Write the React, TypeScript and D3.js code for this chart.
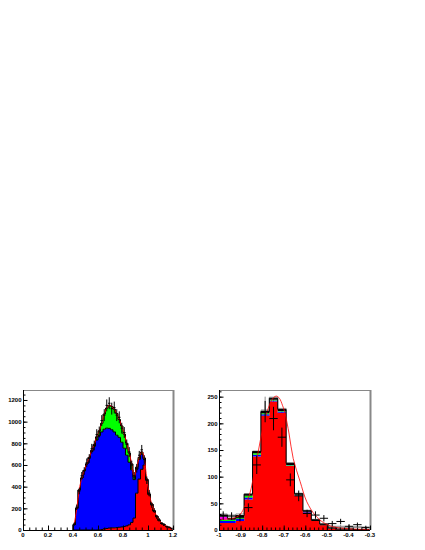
import React from "react";
import * as d3 from "d3";

// ---------------- LEFT PANEL DATA (40 bins of 0.02 from 0.40 to 1.20) ----------------
const leftBinCount = 40;
const leftBinStart = 0.4;
const leftBinWidth = 0.02;
const leftRed = [0, 0, 0, 0, 0, 0, 0, 0, 0, 0, 2, 5, 10, 14, 18, 20, 20, 22, 25, 28, 32, 38, 48, 70, 110, 340, 470, 560, 600, 460, 324, 236, 172, 125, 86, 61, 45, 32, 22, 14];
const leftBlue = [50, 200, 370, 480, 550, 610, 668, 725, 772, 830, 868, 900, 920, 926, 920, 905, 885, 853, 830, 782, 723, 652, 577, 485, 355, 220, 180, 140, 55, 8, 5, 3, 2, 2, 1, 1, 1, 1, 1, 1];
const leftGreen = [0, 0, 0, 0, 0, 0, 2, 10, 18, 30, 45, 80, 140, 185, 212, 215, 210, 200, 165, 150, 130, 110, 85, 55, 25, 20, 20, 20, 10, 2, 1, 1, 1, 1, 1, 0, 0, 0, 0, 0];
const leftData = [55, 210, 360, 500, 545, 620, 660, 750, 780, 880, 905, 1010, 1060, 1150, 1170, 1120, 1130, 1060, 1040, 940, 900, 790, 720, 600, 500, 570, 690, 740, 650, 460, 340, 230, 180, 120, 95, 60, 50, 30, 25, 12];
const leftErr = [15, 25, 30, 35, 35, 40, 40, 45, 45, 50, 50, 50, 55, 55, 55, 55, 55, 55, 55, 50, 50, 45, 45, 40, 35, 40, 40, 45, 40, 35, 30, 25, 22, 18, 15, 12, 11, 9, 8, 6];
const leftXTicks = [0, 0.2, 0.4, 0.6, 0.8, 1, 1.2];
const leftXLabels = ["0", "0.2", "0.4", "0.6", "0.8", "1", "1.2"];
const leftYTicks = [0, 200, 400, 600, 800, 1000, 1200];
const leftYLabels = ["0", "200", "400", "600", "800", "1000", "1200"];

// ---------------- RIGHT PANEL DATA (18 bins from -1 to -0.3) ----------------
const rightBinCount = 18;
const rightRed = [13, 13, 17, 57, 138, 214, 241, 220, 120, 64, 33, 17, 9, 3, 1, 1, 0.5, 0.5];
const rightBlue = [4, 4, 4, 4, 3, 3, 2, 2, 1, 1, 1, 0, 0, 0, 0, 0, 0, 0];
const rightGreen = [2, 2, 3, 3, 3, 2, 1, 1, 1, 1, 0, 0, 0, 0, 0, 0, 0, 0];
const rightMagenta = [6, 0, 0, 0, 0, 0, 0, 0, 0, 0, 0, 0, 0, 0, 0, 0, 0, 0];
const rightBlack = [3, 3, 3, 3, 3, 3, 3, 3, 3, 2, 2, 2, 2, 1, 1, 1, 0.5, 0.5];
const rightGrayHist = [30, 27, 30, 68, 148, 224, 249, 228, 126, 69, 37, 20, 12, 6, 5, 5, 6, 5];
const rightGray = [27, 28, 26, 60, 135, 225, 235, 215, 115, 62, 32, 17, 9, 7, 7, 6, 5, 4];
const rightGrayErr = [5, 5, 5, 5, 8, 25, 10, 8, 6, 5, 4, 3, 3, 3, 3, 3, 3, 2];
const rightData = [27, 26, 23, 42, 122, 222, 209, 174, 94, 64, 31, 28, 22, 12, 16, 7, 10, 5];
const rightErr = [8, 7, 7, 8, 17, 20, 22, 18, 12, 10, 7, 7, 6, 5, 5, 4, 4, 3];
const rightFitX = [-1, -0.95, -0.92, -0.9, -0.88, -0.856, -0.84, -0.818, -0.8, -0.779, -0.76, -0.745, -0.733, -0.72, -0.705, -0.694, -0.675, -0.656, -0.624, -0.593, -0.555, -0.516, -0.47, -0.42, -0.36, -0.3];
const rightFitY = [20, 21, 24, 30, 45, 70, 100, 147, 185, 219, 240, 249, 251, 247, 233, 219, 180, 134, 91, 53, 28, 14, 6, 3, 1.5, 1];
const rightXTicks = [-1, -0.9, -0.8, -0.7, -0.6, -0.5, -0.4, -0.3];
const rightXLabels = ["-1", "-0.9", "-0.8", "-0.7", "-0.6", "-0.5", "-0.4", "-0.3"];
const rightYTicks = [0, 50, 100, 150, 200, 250];
const rightYLabels = ["0", "50", "100", "150", "200", "250"];

type P = { x: number; lo: number; hi: number };

function stepped(edges: number[], w: number, lo: number[], hi: number[]): P[] {
  const pts: P[] = [];
  edges.forEach((e, i) => {
    pts.push({ x: e, lo: lo[i], hi: hi[i] });
    pts.push({ x: e + w, lo: lo[i], hi: hi[i] });
  });
  return pts;
}

function cumulate(layers: number[][]): number[][] {
  const out: number[][] = [];
  let acc = layers[0].map(() => 0);
  for (const l of layers) {
    acc = acc.map((a, i) => a + l[i]);
    out.push(acc);
  }
  return out;
}

const FONT = "'Liberation Sans', Arial, Helvetica, sans-serif";

function Frame({ x0, x1, y0, y1, xs, ys, xTicks, xLabels, xMinor, yTicks, yLabels, yMinor }: any) {
  return (
    <g>
      <line x1={x0} x2={x1} y1={y0 + 0.5} y2={y0 + 0.5} stroke="#888" strokeWidth={1} />
      <line x1={x1 + 0.5} x2={x1 + 0.5} y1={y0} y2={y1} stroke="#888" strokeWidth={2} />
      <line x1={x0 + 0.5} x2={x0 + 0.5} y1={y0} y2={y1 + 0.5} stroke="#000" strokeWidth={1} />
      <line x1={x0} x2={x1} y1={y1 + 0.5} y2={y1 + 0.5} stroke="#000" strokeWidth={1} />
      {yMinor.map((v: number, i: number) => (
        <line key={"ym" + i} x1={x0} x2={x0 + 2.5} y1={ys(v) + 0.5} y2={ys(v) + 0.5} stroke="#000" strokeWidth={1} />
      ))}
      {yTicks.map((v: number, i: number) => (
        <g key={"yt" + i}>
          <line x1={x0} x2={x0 + 4.5} y1={ys(v) + 0.5} y2={ys(v) + 0.5} stroke="#000" strokeWidth={1} />
          <text x={x0 - 1.5} y={ys(v) + 2.2} fontSize={6} fontWeight="bold" fontFamily={FONT} textAnchor="end" fill="#000">
            {yLabels[i]}
          </text>
        </g>
      ))}
      {xMinor.map((v: number, i: number) => (
        <line key={"xm" + i} x1={xs(v) + 0.5} x2={xs(v) + 0.5} y1={y1} y2={y1 - 2.5} stroke="#000" strokeWidth={1} />
      ))}
      {xTicks.map((v: number, i: number) => (
        <g key={"xt" + i}>
          <line x1={xs(v) + 0.5} x2={xs(v) + 0.5} y1={y1} y2={y1 - 4.5} stroke="#000" strokeWidth={1} />
          <text x={xs(v)} y={y1 + 7} fontSize={6} fontWeight="bold" fontFamily={FONT} textAnchor="middle" fill="#000">
            {xLabels[i]}
          </text>
        </g>
      ))}
    </g>
  );
}

function LeftPanel() {
  const x0 = 23, x1 = 173, y0 = 390, y1 = 530;
  const xs = d3.scaleLinear().domain([0, 1.2]).range([x0, x1]);
  const ys = d3.scaleLinear().domain([0, 1292]).range([y1, y0]);
  const edges = d3.range(leftBinCount).map((i) => leftBinStart + i * leftBinWidth);
  const centers = edges.map((e) => e + leftBinWidth / 2);
  const [c1, c2, c3] = cumulate([leftRed, leftBlue, leftGreen]);
  const zero = edges.map(() => 0);
  const area = d3.area<P>().x((d) => xs(d.x)).y0((d) => ys(d.lo)).y1((d) => ys(d.hi));
  const topLine = (pts: P[]) => {
    const full = [{ x: pts[0].x, lo: 0, hi: 0 }, ...pts, { x: pts[pts.length - 1].x, lo: 0, hi: 0 }];
    return d3.line<P>().x((d) => xs(d.x)).y((d) => ys(d.hi))(full) || "";
  };
  const layers = [
    { pts: stepped(edges, leftBinWidth, zero, c1), color: "#ff0000" },
    { pts: stepped(edges, leftBinWidth, c1, c2), color: "#0000ff" },
    { pts: stepped(edges, leftBinWidth, c2, c3), color: "#00ff00" },
  ];
  const fit = d3
    .line<number>()
    .x((_, i) => xs(centers[i]))
    .y((v) => ys(v))
    .curve(d3.curveMonotoneX)(c3) || "";
  const xMinor = d3.range(0, 25).map((i) => i * 0.05);
  const yMinor = d3.range(0, 26).map((i) => i * 50).filter((v) => v <= 1290);
  return (
    <g>
      <defs>
        <clipPath id="clipL">
          <rect x={x0} y={y0} width={x1 - x0} height={y1 - y0} />
        </clipPath>
      </defs>
      <g clipPath="url(#clipL)">
        {layers.map((l, i) => (
          <path key={i} d={area(l.pts) || ""} fill={l.color} stroke="none" />
        ))}
        {layers.map((l, i) => (
          <path key={"o" + i} d={topLine(l.pts)} fill="none" stroke="#000" strokeWidth={1} />
        ))}
        <path d={fit} fill="none" stroke="#ff0000" strokeWidth={1} />
        {leftData.map((v, i) => (
          <g key={"d" + i} stroke="#000" strokeWidth={1}>
            <line x1={xs(centers[i])} x2={xs(centers[i])} y1={ys(v - leftErr[i])} y2={ys(v + leftErr[i])} />
            <line x1={xs(edges[i])} x2={xs(edges[i] + leftBinWidth)} y1={ys(v)} y2={ys(v)} />
          </g>
        ))}
      </g>
      <Frame
        x0={x0} x1={x1} y0={y0} y1={y1} xs={xs} ys={ys}
        xTicks={leftXTicks} xLabels={leftXLabels} xMinor={xMinor}
        yTicks={leftYTicks} yLabels={leftYLabels} yMinor={yMinor}
      />
    </g>
  );
}

function RightPanel() {
  const x0 = 219, x1 = 370, y0 = 390, y1 = 530;
  const xs = d3.scaleLinear().domain([-1, -0.3]).range([x0, x1]);
  const ys = d3.scaleLinear().domain([0, 262.5]).range([y1, y0]);
  const w = 0.7 / rightBinCount;
  const edges = d3.range(rightBinCount).map((i) => -1 + i * w);
  const centers = edges.map((e) => e + w / 2);
  const [c1, c2, c3, c4, c5] = cumulate([rightRed, rightBlue, rightGreen, rightMagenta, rightBlack]);
  const zero = edges.map(() => 0);
  const area = d3.area<P>().x((d) => xs(d.x)).y0((d) => ys(d.lo)).y1((d) => ys(d.hi));
  const topLine = (pts: P[]) => {
    const full = [{ x: pts[0].x, lo: 0, hi: 0 }, ...pts, { x: pts[pts.length - 1].x, lo: 0, hi: 0 }];
    return d3.line<P>().x((d) => xs(d.x)).y((d) => ys(d.hi))(full) || "";
  };
  const layers = [
    { pts: stepped(edges, w, zero, c1), color: "#ff0000" },
    { pts: stepped(edges, w, c1, c2), color: "#0000ff" },
    { pts: stepped(edges, w, c2, c3), color: "#00ff00" },
    { pts: stepped(edges, w, c3, c4), color: "#ff00ff" },
    { pts: stepped(edges, w, c4, c5), color: "#000000" },
  ];
  const grayPts = stepped(edges, w, zero, rightGrayHist);
  const fitPts = rightFitX.map((x, i) => [x, rightFitY[i]] as [number, number]);
  const fit = d3
    .line<[number, number]>()
    .x((d) => xs(d[0]))
    .y((d) => ys(d[1]))
    .curve(d3.curveCatmullRom)(fitPts) || "";
  const xMinor = d3.range(0, 36).map((i) => -1 + i * 0.02);
  const yMinor = d3.range(0, 27).map((i) => i * 10).filter((v) => v <= 262);
  return (
    <g>
      <defs>
        <clipPath id="clipR">
          <rect x={x0} y={y0} width={x1 - x0} height={y1 - y0} />
        </clipPath>
      </defs>
      <g clipPath="url(#clipR)">
        <path d={topLine(grayPts)} fill="none" stroke="#8c8c8c" strokeWidth={1} />
        {rightGray.map((v, i) => (
          <g key={"g" + i} stroke="#8c8c8c" strokeWidth={1}>
            <line x1={xs(centers[i])} x2={xs(centers[i])} y1={ys(v - rightGrayErr[i])} y2={ys(v + rightGrayErr[i])} />
            <line x1={xs(edges[i])} x2={xs(edges[i] + w)} y1={ys(v)} y2={ys(v)} />
          </g>
        ))}
        {layers.map((l, i) => (
          <path key={i} d={area(l.pts) || ""} fill={l.color} stroke="none" />
        ))}
        <path d={topLine(layers[4].pts)} fill="none" stroke="#000" strokeWidth={1} />
        <path d={fit} fill="none" stroke="#ff0000" strokeWidth={0.8} />
        {rightData.map((v, i) => (
          <g key={"d" + i} stroke="#000" strokeWidth={1}>
            <line x1={xs(centers[i])} x2={xs(centers[i])} y1={ys(v - rightErr[i])} y2={ys(v + rightErr[i])} />
            <line x1={xs(edges[i])} x2={xs(edges[i] + w)} y1={ys(v)} y2={ys(v)} />
          </g>
        ))}
      </g>
      <Frame
        x0={x0} x1={x1} y0={y0} y1={y1} xs={xs} ys={ys}
        xTicks={rightXTicks} xLabels={rightXLabels} xMinor={xMinor}
        yTicks={rightYTicks} yLabels={rightYLabels} yMinor={yMinor}
      />
    </g>
  );
}

export default function App() {
  return (
    <svg
      width={425}
      height={550}
      style={{ position: "absolute", left: 0, top: 0, background: "#fff" }}
      xmlns="http://www.w3.org/2000/svg"
    >
      <rect x={0} y={0} width={425} height={550} fill="#fff" />
      <LeftPanel />
      <RightPanel />
    </svg>
  );
}
